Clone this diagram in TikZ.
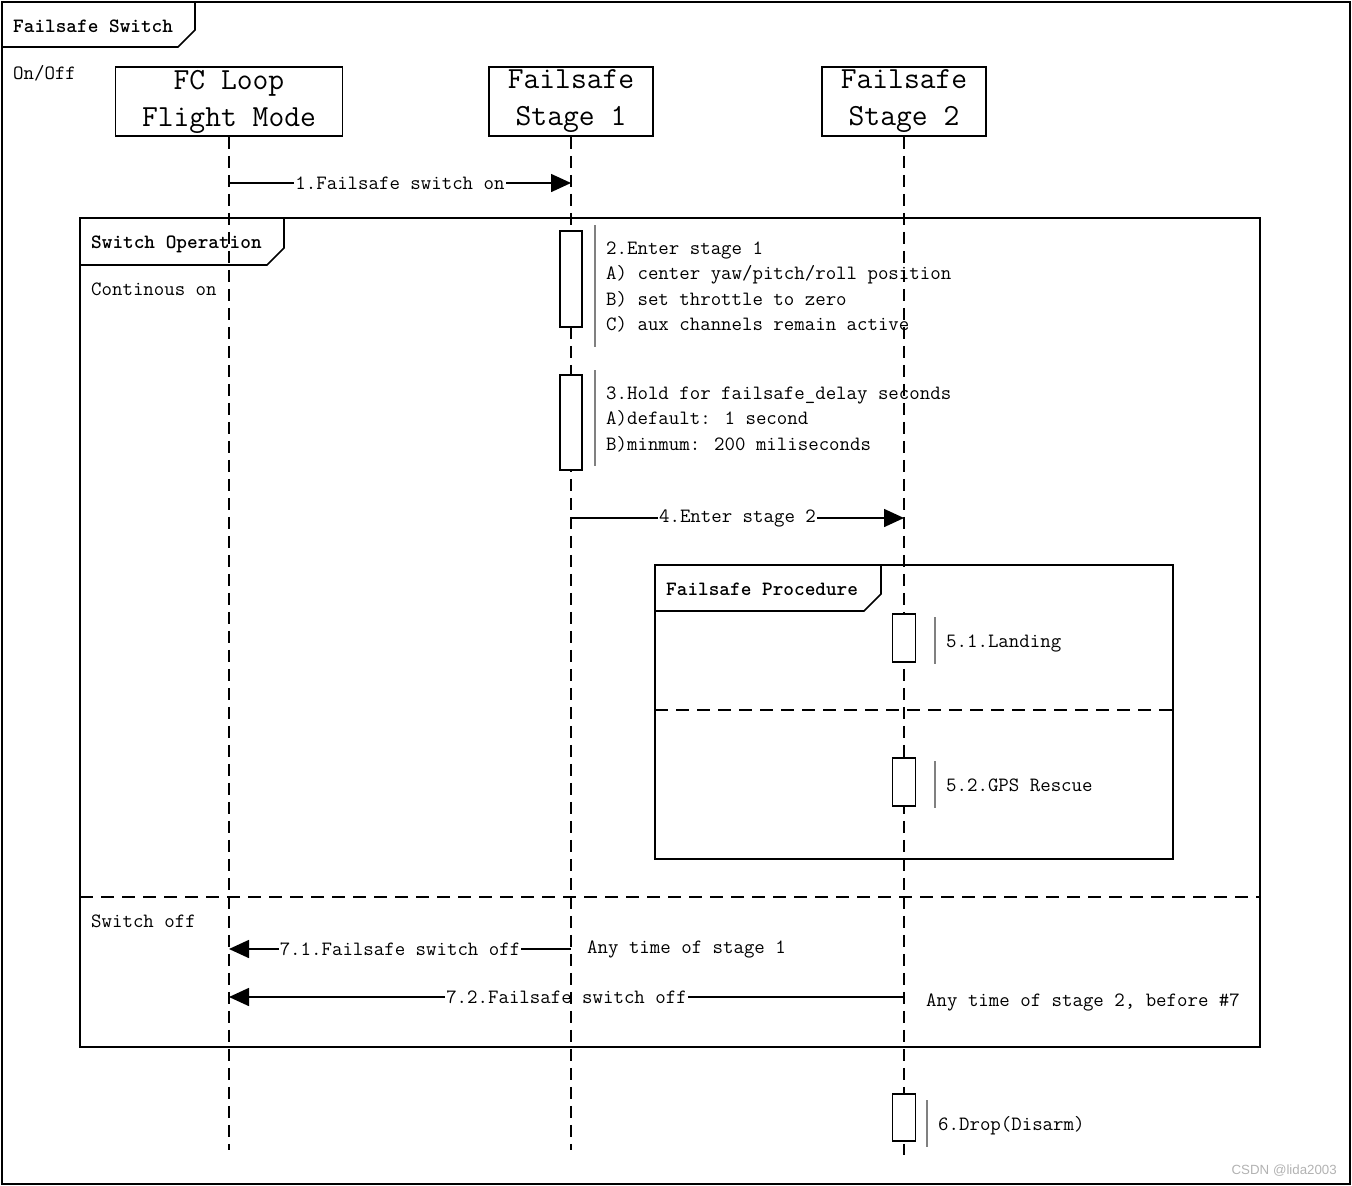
\documentclass[tikz,border=0pt]{standalone}
\usepackage{fontspec}
\newfontfamily\wmfont{Liberation Sans}
\usetikzlibrary{arrows.meta}
\begin{document}
\begin{tikzpicture}[x=1pt,y=-1pt,
  txt/.style={font=\fontsize{20.3}{25.5}\selectfont\ttfamily, inner sep=0pt, anchor=base west},
  ttl/.style={font=\fontsize{20.3}{25.5}\selectfont\ttfamily\bfseries, inner sep=0pt, anchor=base west},
  head/.style={draw, line width=1.6pt, font=\fontsize{30.7}{37}\selectfont\ttfamily, align=center, minimum height=69pt, inner sep=0pt},
  frm/.style={line width=1.6pt},
  life/.style={line width=1.9pt, dash pattern=on 12pt off 7pt},
  sepline/.style={line width=1.7pt, dash pattern=on 13pt off 8pt},
  act/.style={draw, fill=white, line width=1.6pt, minimum width=22pt, inner sep=0pt},
  notebar/.style={draw=gray, line width=1.2pt},
  msg/.style={line width=1.6pt, -{Triangle[length=20pt,width=18pt]}},
  mlabel/.style={font=\fontsize{20.3}{25.5}\selectfont\ttfamily, fill=white, inner sep=1pt},
]
\useasboundingbox (0,0) rectangle (1352,1186);
% outer frame
\draw[frm] (2,2) rectangle (1350,1184);
\draw[frm] (2,47) -- (178,47) -- (195,30) -- (195,2);
\node[ttl] (title) at (13,32) {Failsafe Switch};
\node[txt] (onoff) at (13,79) {On/Off};

% heads
\node[head, minimum width=227pt] (fc) at (229,101.5) {FC Loop\\Flight Mode};
\node[head, minimum width=164pt] (s1) at (571,101.5) {Failsafe\\Stage 1};
\node[head, minimum width=164pt] (s2) at (904,101.5) {Failsafe\\Stage 2};

% switch operation frame
\draw[frm] (80,218) rectangle (1260,1047);
\draw[frm] (80,265) -- (267,265) -- (284,248) -- (284,218);
\node[ttl] (so) at (91,248) {Switch Operation};
\node[txt] (con) at (91,295) {Continous on};
\draw[sepline] (80,897) -- (1260,897);
\node[txt] (soff) at (91,927) {Switch off};

% failsafe procedure frame
\draw[frm] (655,565) rectangle (1173,859);
\draw[frm] (655,611) -- (864,611) -- (881,594) -- (881,565);
\node[ttl] (fp) at (666,595) {Failsafe Procedure};
\draw[sepline] (655,710) -- (1173,710);

% message rows
\coordinate (y1) at (0,183);
\coordinate (y4) at (0,518);
\coordinate (y71) at (0,949);
\coordinate (y72) at (0,997);
\coordinate (bot) at (0,1150);
\coordinate (bot3) at (0,1155);

\draw[msg] (fc.south |- y1) -- node[mlabel] (l1) {1.Failsafe switch on} (s1.south |- y1);
\draw[msg] (s1.south |- y4) -- node[mlabel] (l4) {4.Enter stage 2} (s2.south |- y4);
\draw[msg] (s1.south |- y71) -- node[mlabel] (l71) {7.1.Failsafe switch off} (fc.south |- y71);
\draw[msg] (s2.south |- y72) -- node[mlabel] (l72) {7.2.Failsafe switch off} (fc.south |- y72);

% lifelines
\draw[life] (fc.south) -- (fc.south |- bot);
\draw[life] (s1.south) -- (s1.south |- bot);
\draw[life] (s2.south) -- (s2.south |- bot3);

% activations
\node[act, minimum height=96pt] (a2) at (571,279) {};
\node[act, minimum height=95pt] (a3) at (571,422.5) {};
\node[act, minimum width=23pt, minimum height=48pt] (a51) at (904,638) {};
\node[act, minimum width=23pt, minimum height=48pt] (a52) at (904,782) {};
\node[act, minimum width=23pt, minimum height=47pt] (a6) at (904,1117.5) {};

% notes
\draw[notebar] (595,225) -- (595,347);
\node[txt] (n2a) at (606,254) {2.Enter stage 1};
\node[txt] (n2b) at (606,279.5) {A) center yaw/pitch/roll position};
\node[txt] (n2c) at (606,305) {B) set throttle to zero};
\node[txt] (n2d) at (606,330.5) {C) aux channels remain active};

\draw[notebar] (595,370) -- (595,466);
\node[txt] (n3a) at (606,399) {3.Hold for failsafe\_delay seconds};
\node[txt] (n3b) at (606,424.5) {A)default: 1 second};
\node[txt] (n3c) at (606,450) {B)minmum: 200 miliseconds};

\draw[notebar] (935,617) -- (935,664);
\node[txt] (n51) at (946,647) {5.1.Landing};
\draw[notebar] (935,761) -- (935,808);
\node[txt] (n52) at (946,791) {5.2.GPS Rescue};
\draw[notebar] (927,1100) -- (927,1147);
\node[txt] (n6) at (938,1130) {6.Drop(Disarm)};

\node[txt] (c71) at (587,953) {Any time of stage 1};
\node[txt] (c72) at (926,1006) {Any time of stage 2, before \#7};

\node[font=\wmfont\fontsize{13.3}{15}\selectfont, text=gray!60, anchor=east, inner sep=0pt] (wm) at (1337,1171) {CSDN @lida2003};
\end{tikzpicture}
\end{document}
